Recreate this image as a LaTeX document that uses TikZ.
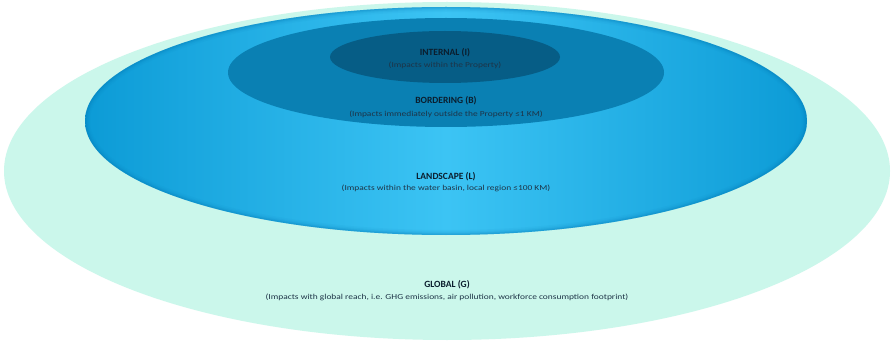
\documentclass[tikz,border=0pt]{standalone}
\usepackage{fontspec}
\setmainfont{Carlito}
\usetikzlibrary{shapes.geometric}
\definecolor{globalfill}{HTML}{CBF7EB}
\definecolor{landedge}{HTML}{0C9BD6}
\definecolor{landmid}{HTML}{3CC4F4}
\definecolor{landrim}{HTML}{0578B4}
\definecolor{borderfill}{HTML}{0A80B3}
\definecolor{internalfill}{HTML}{065D86}
\definecolor{titlecol}{HTML}{0B1E2E}
\definecolor{subcol}{HTML}{1E3447}
\tikzset{
  zone/.style={ellipse, draw=none, inner sep=0pt},
  ztitle/.style={font=\fontsize{9.5}{11}\selectfont\bfseries, text=titlecol, inner sep=0pt},
  zsub/.style={font=\fontsize{7.6}{9}\selectfont, text=subcol, inner sep=0pt,
               xscale=1.24, transform shape},
}
\begin{document}
\begin{tikzpicture}[x=1pt,y=-1pt]
  \useasboundingbox[fill=white] (0,0) rectangle (892,342);
  % concentric zones, outermost first
  \node[zone, fill=globalfill, minimum width=886pt, minimum height=338pt] (global) at (447,171) {};
  \node[zone, left color=landedge, right color=landedge, middle color=landmid,
        minimum width=722pt, minimum height=228pt] (land) at (446,121) {};
  % soft inner rim along the landscape edge
  \begin{scope}
    \clip (446,121) ellipse [x radius=361, y radius=114];
    \foreach \w/\o in {10/0.06, 7/0.08, 4.5/0.12, 2.5/0.18}
      \draw[landrim, line width=\w pt, opacity=\o] (446,121) ellipse [x radius=361, y radius=114];
  \end{scope}
  \node[zone, fill=borderfill, minimum width=436pt, minimum height=109pt] (border) at (446,72.5) {};
  \node[zone, fill=internalfill, minimum width=230pt, minimum height=52pt] (internal) at (445,57) {};
  % labels
  \node[ztitle] (tI) at (445,53) {INTERNAL (I)};
  \node[zsub] (sI) at (445,65) {(Impacts within the Property)};
  \node[ztitle] (tB) at (446,101) {BORDERING (B)};
  \node[zsub] (sB) at (446,114) {(Impacts immediately outside the Property ≤1 KM)};
  \node[ztitle] (tL) at (446,177) {LANDSCAPE (L)};
  \node[zsub] (sL) at (446,188) {(Impacts within the water basin, local region ≤100 KM)};
  \node[ztitle] (tG) at (447,285) {GLOBAL (G)};
  \node[zsub] (sG) at (447,297) {(Impacts with global reach, i.e. GHG emissions,  air pollution, workforce consumption footprint)};
\end{tikzpicture}
\end{document}
